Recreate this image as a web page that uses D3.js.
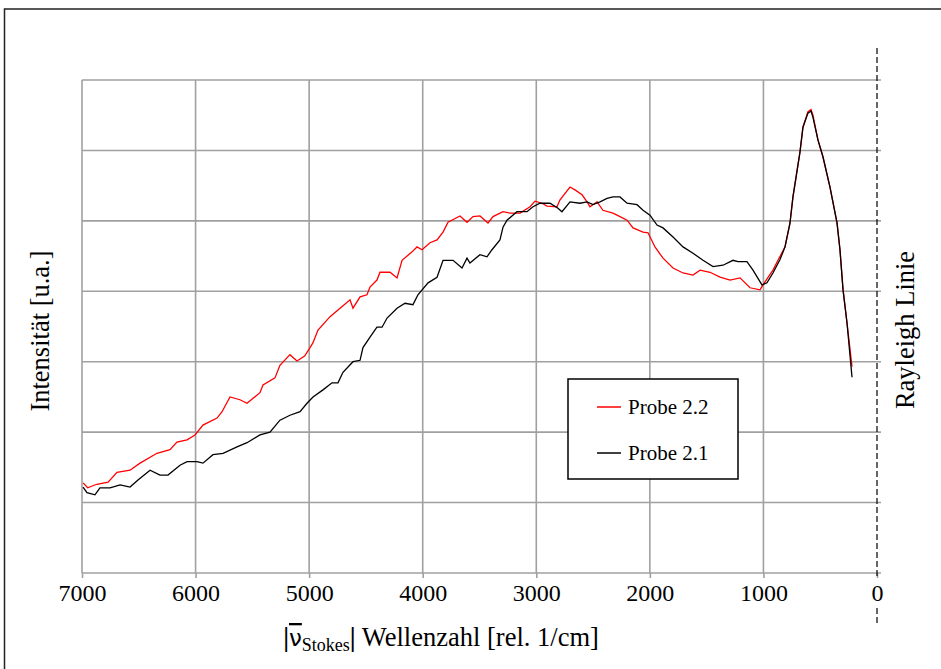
<!DOCTYPE html>
<html lang="de">
<head>
  <meta charset="UTF-8">
  <title>Raman Spektrum Probe 2.1 / 2.2</title>
  <script src="https://d3js.org/d3.v7.min.js"></script>
  <style>
    body { margin: 0; background: #fff; }
    svg text { font-family: "Liberation Serif", "Times New Roman", serif; fill: #000; }
  </style>
</head>
<body>
<div id="chart"></div>

<script>
// tick labels on the wavenumber axis
const xTicks = [7000, 6000, 5000, 4000, 3000, 2000, 1000, 0];
// horizontal gridlines (arbitrary intensity units)
const yGrid = [0, 1, 2, 3, 4, 5, 6, 7];

// Probe 2.2 (red) : [wavenumber, intensity]
const probe22 = [
  [6990, 1.28], [6950, 1.21], [6870, 1.26], [6770, 1.29], [6692, 1.43], [6577, 1.46],
  [6489, 1.56], [6340, 1.70], [6225, 1.75], [6164, 1.86], [6075, 1.89], [6005, 1.96],
  [5935, 2.10], [5811, 2.20], [5767, 2.29], [5697, 2.50], [5609, 2.46], [5547, 2.41],
  [5433, 2.56], [5406, 2.67], [5301, 2.77], [5257, 2.95], [5169, 3.10], [5107, 3.01],
  [5040, 3.08], [4992, 3.20], [4966, 3.27], [4922, 3.45], [4816, 3.64], [4728, 3.76],
  [4640, 3.88], [4614, 3.76], [4552, 3.92], [4491, 3.95], [4464, 4.06], [4403, 4.16],
  [4376, 4.27], [4288, 4.27], [4226, 4.19], [4182, 4.44], [4094, 4.56], [4050, 4.63],
  [4006, 4.59], [3936, 4.69], [3874, 4.73], [3821, 4.84], [3777, 4.98], [3672, 5.07],
  [3610, 4.98], [3557, 5.06], [3496, 5.07], [3425, 4.97], [3381, 5.06], [3293, 5.13],
  [3231, 5.11], [3143, 5.11], [3055, 5.20], [3011, 5.28], [2950, 5.25], [2906, 5.21],
  [2818, 5.20], [2791, 5.30], [2703, 5.48], [2659, 5.44], [2597, 5.37], [2553, 5.27],
  [2527, 5.20], [2465, 5.27], [2413, 5.15], [2325, 5.11], [2263, 5.06], [2201, 5.01],
  [2148, 4.90], [2060, 4.84], [2016, 4.83], [1955, 4.63], [1884, 4.47], [1796, 4.33],
  [1708, 4.26], [1620, 4.23], [1558, 4.30], [1470, 4.27], [1382, 4.20], [1294, 4.16],
  [1206, 4.19], [1118, 4.05], [1030, 4.02], [1004, 4.09], [916, 4.30], [872, 4.44],
  [810, 4.63], [766, 4.97], [740, 5.34], [678, 5.98], [652, 6.33], [608, 6.55],
  [581, 6.58], [564, 6.50], [520, 6.15], [476, 5.91], [414, 5.48], [352, 4.97],
  [326, 4.59], [299, 4.02], [264, 3.55], [220, 2.93]
];

// Probe 2.1 (black)
const probe21 = [
  [6991, 1.22], [6956, 1.14], [6886, 1.11], [6842, 1.21], [6753, 1.21], [6665, 1.25],
  [6577, 1.22], [6507, 1.32], [6401, 1.46], [6313, 1.39], [6243, 1.39], [6137, 1.53],
  [6075, 1.58], [5987, 1.58], [5935, 1.56], [5847, 1.68], [5758, 1.70], [5635, 1.79],
  [5547, 1.85], [5433, 1.96], [5345, 2.00], [5257, 2.17], [5169, 2.24], [5080, 2.29],
  [5019, 2.41], [4966, 2.50], [4878, 2.60], [4799, 2.70], [4746, 2.70], [4702, 2.85],
  [4614, 3.00], [4552, 3.02], [4526, 3.20], [4464, 3.35], [4403, 3.49], [4358, 3.49],
  [4314, 3.62], [4226, 3.76], [4156, 3.83], [4086, 3.81], [4042, 3.95], [3953, 4.12],
  [3874, 4.20], [3821, 4.44], [3733, 4.44], [3654, 4.33], [3610, 4.47], [3584, 4.40],
  [3496, 4.52], [3434, 4.49], [3390, 4.59], [3320, 4.73], [3293, 4.91], [3258, 5.01],
  [3170, 5.13], [3082, 5.13], [3029, 5.20], [2967, 5.25], [2879, 5.25], [2809, 5.18],
  [2774, 5.13], [2703, 5.27], [2615, 5.25], [2553, 5.27], [2501, 5.23], [2439, 5.27],
  [2377, 5.32], [2325, 5.34], [2263, 5.34], [2201, 5.25], [2113, 5.23], [2060, 5.15],
  [1999, 5.08], [1937, 4.94], [1884, 4.90], [1796, 4.77], [1708, 4.63], [1620, 4.54],
  [1532, 4.44], [1444, 4.35], [1356, 4.37], [1268, 4.44], [1224, 4.42], [1145, 4.42],
  [1092, 4.30], [1013, 4.09], [969, 4.12], [916, 4.26], [854, 4.45], [810, 4.63],
  [766, 4.97], [740, 5.34], [678, 5.98], [652, 6.33], [608, 6.53], [581, 6.56],
  [564, 6.47], [520, 6.15], [476, 5.91], [414, 5.48], [352, 4.97], [326, 4.59],
  [299, 4.02], [264, 3.55], [220, 2.78]
];

const series = [
  { name: "Probe 2.2", color: "#ff0000", values: probe22 },
  { name: "Probe 2.1", color: "#000000", values: probe21 }
];

const serif = '"Liberation Serif", "Times New Roman", serif';
const width = 941, height = 669;
const plot = { left: 82, right: 877, top: 80, bottom: 573 };

const svg = d3.select("#chart")
  .append("svg")
  .attr("width", width)
  .attr("height", height);

// outer frame (runs off the right and bottom edge)
svg.append("rect")
  .attr("x", 4.5).attr("y", 9)
  .attr("width", 1000).attr("height", 1000)
  .attr("fill", "none")
  .attr("stroke", "#222")
  .attr("stroke-width", 1.5);

const x = d3.scaleLinear().domain([7000, 0]).range([plot.left, plot.right]);
const y = d3.scaleLinear().domain([0, 7]).range([plot.bottom, plot.top]);

// horizontal gridlines
svg.append("g")
  .selectAll("line")
  .data(yGrid)
  .enter()
  .append("line")
  .attr("x1", plot.left)
  .attr("x2", plot.right + 4)
  .attr("y1", d => y(d))
  .attr("y2", d => y(d))
  .attr("stroke", "#a0a0a0")
  .attr("stroke-width", 1.6);

// vertical gridlines (not at 0, that one is the dashed Rayleigh line)
svg.append("g")
  .selectAll("line")
  .data(xTicks.filter(d => d !== 0))
  .enter()
  .append("line")
  .attr("x1", d => x(d))
  .attr("x2", d => x(d))
  .attr("y1", plot.top)
  .attr("y2", plot.bottom)
  .attr("stroke", "#a0a0a0")
  .attr("stroke-width", 1.6);

// x axis: small ticks below and labels
const xAxis = d3.axisBottom(x)
  .tickValues(xTicks)
  .tickSize(5)
  .tickPadding(6)
  .tickFormat(d3.format("d"));

const gx = svg.append("g")
  .attr("transform", `translate(0, ${plot.bottom})`)
  .call(xAxis)
  .attr("font-family", serif)
  .attr("font-size", 24);
gx.select(".domain").remove();
gx.selectAll(".tick line").attr("stroke", "#a0a0a0").attr("stroke-width", 1.6);
gx.selectAll(".tick text")
  .style("font-family", serif)
  .style("font-size", "24px")
  .attr("fill", "#000");

// Rayleigh line (dashed) at 0
svg.append("line")
  .attr("x1", x(0)).attr("x2", x(0))
  .attr("y1", 48).attr("y2", plot.bottom + 6)
  .attr("stroke", "#000")
  .attr("stroke-width", 1.2)
  .attr("stroke-dasharray", "6,3");
svg.append("line")
  .attr("x1", x(0)).attr("x2", x(0))
  .attr("y1", 608).attr("y2", 625)
  .attr("stroke", "#000")
  .attr("stroke-width", 1.2)
  .attr("stroke-dasharray", "6,3");

// curves
const line = d3.line()
  .x(d => x(d[0]))
  .y(d => y(d[1]));

svg.append("g")
  .selectAll("path")
  .data(series)
  .enter()
  .append("path")
  .attr("d", d => line(d.values))
  .attr("fill", "none")
  .attr("stroke", d => d.color)
  .attr("stroke-width", 1.3);

// legend
const legend = svg.append("g").attr("transform", "translate(568, 379)");
legend.append("rect")
  .attr("width", 170).attr("height", 100)
  .attr("fill", "#fff")
  .attr("stroke", "#000")
  .attr("stroke-width", 1.5);
legend.selectAll("g.item")
  .data(series)
  .enter()
  .append("g")
  .attr("class", "item")
  .attr("transform", (d, i) => `translate(0, ${28 + i * 46})`)
  .each(function(d) {
    const g = d3.select(this);
    g.append("line")
      .attr("x1", 29).attr("x2", 53)
      .attr("y1", 0).attr("y2", 0)
      .attr("stroke", d.color)
      .attr("stroke-width", 1.5);
    g.append("text")
      .attr("x", 60).attr("y", 7)
      .style("font-size", "21px")
      .text(d.name);
  });

// axis titles
svg.append("text")
  .attr("transform", "translate(49, 331) rotate(-90)")
  .attr("text-anchor", "middle")
  .style("font-size", "26.5px")
  .text("Intensität [u.a.]");

svg.append("text")
  .attr("transform", "translate(914, 330) rotate(-90)")
  .attr("text-anchor", "middle")
  .style("font-size", "26.5px")
  .text("Rayleigh Linie");

const xTitle = svg.append("text")
  .attr("x", 441).attr("y", 646)
  .attr("text-anchor", "middle")
  .style("font-size", "26.5px");
xTitle.append("tspan").style("font-weight", "bold").text("|");
xTitle.append("tspan")
  .style("font-family", '"DejaVu Sans", sans-serif')
  .style("font-size", "23px")
  .attr("text-decoration", "overline")
  .text("ν");
xTitle.append("tspan").attr("dy", 5).style("font-size", "18px").text("Stokes");
xTitle.append("tspan").attr("dy", -5).style("font-weight", "bold").text("|");
xTitle.append("tspan").text(" Wellenzahl [rel. 1/cm]");
</script>

</body>
</html>
